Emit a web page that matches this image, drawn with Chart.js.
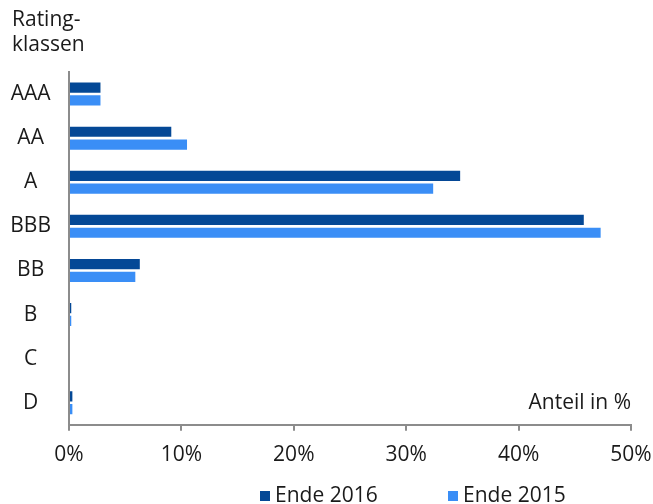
<!DOCTYPE html>
<html>
<head>
<meta charset="utf-8">
<script src="https://cdn.jsdelivr.net/npm/chart.js@4.4.1/dist/chart.umd.min.js"></script>
<style>
  html, body { margin: 0; padding: 0; background: #fff; }
  #wrap { width: 653px; height: 504px; position: relative; }
</style>
</head>
<body>
<div id="wrap"><canvas id="ratingChart"></canvas></div>
<script>
/* Data */
const ratingClasses = ["AAA", "AA", "A", "BBB", "BB", "B", "C", "D"];
const share2016 = [2.8, 9.1, 34.8, 45.8, 6.3, 0.2, 0, 0.3];
const share2015 = [2.8, 10.5, 32.4, 47.3, 5.9, 0.2, 0, 0.3];
const xTicks = [0, 10, 20, 30, 40, 50];

const textColor = "#1a1a1a";
const axisGrey = "#8c8c8c";
const fontFamily = "'Open Sans', 'Noto Sans', sans-serif";
const fontSize = 21;

/* Axis caption, unit note and legend drawn on the canvas */
const captionPlugin = {
    id: "captions",
    afterDraw(chart) {
        const ctx = chart.ctx;
        const area = chart.chartArea;
        ctx.save();
        ctx.fillStyle = textColor;
        ctx.font = fontSize + "px " + fontFamily;
        ctx.textBaseline = "alphabetic";
        ctx.textAlign = "left";
        ctx.fillText("Rating-", 12, 26);
        ctx.fillText("klassen", 12, 51);
        ctx.textAlign = "right";
        ctx.fillText("Anteil in %", area.right, 409);

        // legend: two items, fixed slots as in the reference
        const legendX = [260, 448];
        ctx.textAlign = "left";
        chart.data.datasets.forEach((ds, i) => {
            ctx.fillStyle = ds.backgroundColor;
            ctx.fillRect(legendX[i], 491, 10, 10);
            ctx.fillStyle = textColor;
            ctx.fillText(ds.label, legendX[i] + 15, 502);
        });
        ctx.restore();
    }
};

const ctx = document.getElementById("ratingChart").getContext("2d");
new Chart(ctx, {
    type: "bar",
    data: {
        labels: ratingClasses,
        datasets: [
            {
                label: "Ende 2016",
                data: share2016,
                backgroundColor: "#044896",
                categoryPercentage: 0.58,
                barPercentage: 0.8
            },
            {
                label: "Ende 2015",
                data: share2015,
                backgroundColor: "#3a8ef6",
                categoryPercentage: 0.58,
                barPercentage: 0.8
            }
        ]
    },
    options: {
        indexAxis: "y",
        responsive: true,
        maintainAspectRatio: false,
        animation: false,
        layout: { padding: { top: 72, right: 3, left: 4, bottom: 24 } },
        plugins: {
            legend: { display: false },
            tooltip: { enabled: false }
        },
        scales: {
            x: {
                min: 0,
                max: 50,
                afterBuildTicks: axis => { axis.ticks = xTicks.map(v => ({ value: v })); },
                // keep room for the half-width of "50%" only
                afterFit: axis => { axis.paddingRight = 22; },
                ticks: {
                    callback: v => v + "%",
                    color: textColor,
                    font: { family: fontFamily, size: fontSize },
                    padding: 12,
                    maxRotation: 0
                },
                grid: {
                    drawOnChartArea: false,
                    drawTicks: true,
                    tickLength: 6,
                    color: axisGrey,
                    lineWidth: 2
                },
                border: { display: true, color: axisGrey, width: 2 }
            },
            y: {
                afterFit: axis => { axis.width = 65; },
                ticks: {
                    color: textColor,
                    font: { family: fontFamily, size: fontSize },
                    crossAlign: "center",
                    padding: 18
                },
                grid: { display: false, drawTicks: false },
                border: { display: true, color: axisGrey, width: 2 }
            }
        }
    },
    plugins: [captionPlugin]
});
</script>
</body>
</html>
